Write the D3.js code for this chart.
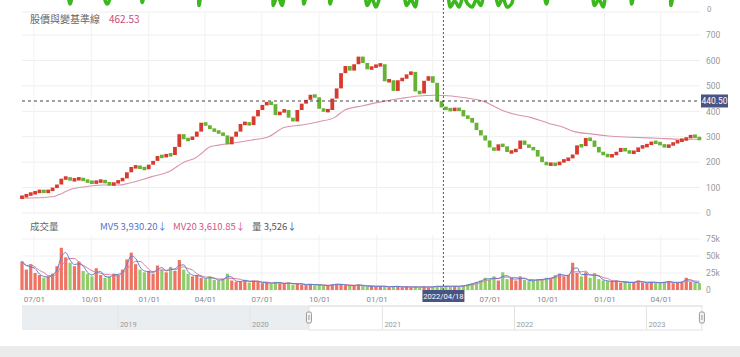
<!DOCTYPE html>
<html><head><meta charset="utf-8">
<script src="https://cdn.jsdelivr.net/npm/d3@7"></script>
<style>
html,body{margin:0;padding:0;background:#fff;}
svg{display:block;font-family:"Noto Sans CJK TC","Noto Sans",sans-serif;}
</style></head><body>
<svg id="c" width="740" height="357"></svg>
<script>
// ---------------- DATA ----------------
const startDate = "2020-06-12";   // first weekly bar
const endDate = "2023-06-03";
const firstOpen = 60;
// weekly closes
const closes = [64,72,77,82,88,82,88,98,112,135,
140,128,133,136,128,123,119,124,127,120,
110,118,127,136,160,181,182,178,172,190,
205,224,221,230,228,260,310,290,288,300,
320,355,345,330,322,315,305,270,300,320,
350,355,346,380,405,425,435,428,385,398,
405,375,360,405,430,445,465,455,410,400,
405,450,490,550,578,560,585,615,590,565,
575,580,585,518,522,480,522,528,545,555,
478,470,520,538,512,440,415,408,405,410,
405,380,374,355,326,305,285,258,245,270,
262,240,240,252,285,268,258,248,222,200,
189,195,188,202,208,215,230,266,263,295,
285,260,238,230,222,228,240,256,242,238,
240,258,262,268,280,276,270,258,268,275,
285,287,295,306,298,288];
// weekly volume (thousand shares)
const volumes = [42,30,38,25,22,18,20,24,35,62,
48,40,35,42,28,24,20,32,22,18,
20,24,22,30,45,55,38,30,26,28,
24,36,30,26,34,28,44,30,24,20,
22,18,16,20,15,14,16,24,14,12,
13,15,11,14,12,10,11,9,12,10,
9,11,8,10,8,7,9,7,8,6,
7,8,9,8,7,6,7,8,6,5,
6,5,6,5,4,6,5,4,5,4,
5,4,5,4,5,6,5,6,5,6,
5,7,8,10,12,14,18,15,20,14,
26,16,18,14,20,15,13,14,16,15,
18,17,22,24,20,22,40,25,20,26,
18,25,16,14,13,12,14,11,12,10,
12,14,11,10,12,11,10,12,13,10,
11,12,18,12,11,10];
// base line (pink long moving average)
const maDates = ["2020-06-12","2020-07-30","2020-08-15","2020-08-26","2020-09-21","2020-10-18","2020-11-14","2020-11-30",
"2021-01-06","2021-02-02","2021-02-28","2021-03-16","2021-03-27","2021-04-07","2021-04-23","2021-05-14","2021-06-15",
"2021-07-12","2021-08-07","2021-09-03","2021-09-30","2021-10-26","2021-11-11","2021-12-08","2022-01-14","2022-02-10",
"2022-03-09","2022-04-04","2022-05-01","2022-05-28","2022-06-23","2022-07-04","2022-07-20","2022-08-10","2022-09-06",
"2022-10-03","2022-10-24","2022-11-14","2022-12-11","2023-01-07","2023-02-13","2023-03-28","2023-05-04","2023-06-03"];
const maValues = [58,64,77,90,103,110,110,117,
143,162,202,215,235,258,267,274,287,
300,337,346,359,376,405,421,440,451,
460,463,460,451,438,425,405,388,375,
353,340,320,311,303,298,294,290,290];
const priceTicks = [0,100,200,300,400,500,600,700];
const volumeTicks = [0,25000,50000,75000];
const volumeTickLabels = ["0","25k","50k","75k"];
const monthTickDates = ["2020-07-01","2020-10-01","2021-01-01","2021-04-01","2021-07-01","2021-10-01","2022-01-01","2022-04-01","2022-07-01","2022-10-01","2023-01-01","2023-04-01"];
// the 2022-04-01 label is hidden under the crosshair date box
const monthTickLabels = ["07/01","10/01","01/01","04/01","07/01","10/01","01/01","","07/01","10/01","01/01","04/01"];
const crossDate = "2022-04-18";
const crossDateLabel = "2022/04/18";
const crossPrice = 440.50;
const baseTitle = "股價與變基準線";
const baseValue = "462.53";
const volTitle = "成交量";
const volLegendLabels = ["MV5 3,930.20↓","MV20 3,610.85↓","量 3,526↓"];
const navStart = "2018-04-11", navEnd = "2023-06-06";
const navYears = ["2019","2020","2021","2022","2023"];
// clipped series of the panel above (only its dips are visible)
const topWaveIdx = [0,10,11,12,18,19.5,21,27,27.5,28.5,40,40.5,41.5,57,57.5,58.5,59.5,60.5,64,64.5,65.5,70,70.5,71.5,78,79,80,81,82,83,87,88,89,90,91,97,98,99,100,101,102,103,104,105,106,108,109,110,111,112,113,119,120,121,130,131,132,133,134,139,139.5,140.5,148,148.5,149.5,155];
const topWaveVal = [0,0,8,0,0,8,0,0,7,0,0,9,0,0,9,2,9,0,0,8,0,0,8,0,0,9,4,10,3,0,0,9,5,10,0,0,10,6,10,3,8,10,5,9,0,0,9,4,10,8,0,0,8,0,0,9,5,10,0,0,8,0,0,9,0,0];

// ---------------- SCALES ----------------
const parse = d3.utcParse("%Y-%m-%d");
const svg = d3.select("#c");
const d0 = parse(startDate);
const dates = closes.map((_, i) => d3.utcDay.offset(d0, 7 * i));
const x = d3.scaleUtc().domain([parse(startDate), parse(endDate)]).range([22, 700]);
const yP = d3.scaleLinear().domain([0, 700]).range([213, 35]);
const yV = d3.scaleLinear().domain([0, 75000]).range([290, 239]);
const yTop = d3.scaleLinear().domain([0, 10]).range([-8, 7]);
const xIdx = d3.scaleLinear().domain([0, closes.length - 1]).range([x(dates[0]), x(dates[dates.length - 1])]);
const bw = 3.8;

const candles = closes.map((c, i) => ({
  date: dates[i], open: i === 0 ? firstOpen : closes[i - 1], close: c, vol: volumes[i] * 1000
}));

// ---------------- GRID ----------------
const grid = svg.append("g");
grid.selectAll("line.h").data(priceTicks).join("line")
  .attr("x1", 22).attr("x2", 700).attr("y1", d => yP(d)).attr("y2", d => yP(d))
  .attr("stroke", "#eeeeee").attr("stroke-width", 1);
grid.append("line").attr("x1", 22).attr("x2", 700).attr("y1", 12).attr("y2", 12).attr("stroke", "#eeeeee");
grid.selectAll("line.vv").data(volumeTicks).join("line")
  .attr("x1", 22).attr("x2", 700).attr("y1", d => yV(d)).attr("y2", d => yV(d))
  .attr("stroke", "#f0f0f0");
const mdates = monthTickDates.map(parse);
grid.selectAll("line.v1").data(mdates).join("line")
  .attr("x1", d => x(d)).attr("x2", d => x(d)).attr("y1", 12).attr("y2", 213)
  .attr("stroke", "#f2f2f2");
grid.selectAll("line.v2").data(mdates).join("line")
  .attr("x1", d => x(d)).attr("x2", d => x(d)).attr("y1", 235).attr("y2", 290)
  .attr("stroke", "#f2f2f2");

// top clipped series
svg.append("path")
  .datum(topWaveIdx.map((d, i) => [d, topWaveVal[i]]))
  .attr("d", d3.line().x(d => xIdx(d[0])).y(d => yTop(d[1])).curve(d3.curveCatmullRom))
  .attr("fill", "none").attr("stroke", "#3cb81e").attr("stroke-width", 3.5)
  .attr("stroke-linecap", "round").attr("stroke-linejoin", "round");
svg.append("text").attr("x", 707).attr("y", 12).attr("font-size", 8).attr("fill", "#999").text("0");

// ---------------- PRICE ----------------
svg.append("text").attr("x", 30).attr("y", 23).attr("font-size", 10).attr("fill", "#666").text(baseTitle);
svg.append("text").attr("x", 109).attr("y", 23).attr("font-size", 10).attr("fill", "#c64e78").text(baseValue);

const axP = svg.append("g").attr("transform", "translate(706,0)")
  .call(d3.axisRight(yP).tickValues(priceTicks).tickSize(0).tickPadding(0));
axP.select(".domain").remove();
axP.selectAll("text").attr("font-size", 8.5).attr("fill", "#999").attr("font-family", "Roboto,'Noto Sans',sans-serif");

// MA line
svg.append("path")
  .datum(maDates.map((d, i) => [parse(d), maValues[i]]))
  .attr("d", d3.line().x(d => x(d[0])).y(d => yP(d[1])).curve(d3.curveMonotoneX))
  .attr("fill", "none").attr("stroke", "#dc93ad").attr("stroke-width", 1.1);

// candles
svg.append("g").selectAll("rect").data(candles).join("rect")
  .attr("x", d => x(d.date) - bw / 2)
  .attr("width", bw)
  .attr("y", d => {
    const t = yP(Math.max(d.open, d.close)), b = yP(Math.min(d.open, d.close));
    return (b - t) < 3.5 ? (t + b) / 2 - 1.75 : t;
  })
  .attr("height", d => Math.max(3.5, Math.abs(yP(d.open) - yP(d.close))))
  .attr("fill", d => d.close >= d.open ? "#d73a2e" : "#66b232");

// ---------------- VOLUME ----------------
svg.append("text").attr("x", 30).attr("y", 230).attr("font-size", 9.5).attr("fill", "#666").text(volTitle);
const legColors = ["#4f72c9", "#d2557f", "#555"];
const legX = [100, 173, 252];
volLegendLabels.forEach((t, i) => {
  svg.append("text").attr("x", legX[i]).attr("y", 230).attr("font-size", 9.5)
    .attr("fill", legColors[i]).text(t);
});

svg.append("g").selectAll("rect").data(candles).join("rect")
  .attr("x", d => x(d.date) - 1.6)
  .attr("width", 3.2)
  .attr("y", d => yV(d.vol))
  .attr("height", d => yV(0) - yV(d.vol))
  .attr("fill", d => d.close >= d.open ? "#ec6452" : "#84c85a")
  .attr("opacity", 0.9);

const mv = (n) => candles.map((d, i) => {
  const s = candles.slice(Math.max(0, i - n + 1), i + 1);
  return [d.date, d3.mean(s, e => e.vol)];
});
svg.append("path").datum(mv(4))
  .attr("d", d3.line().x(d => x(d[0])).y(d => yV(d[1])).curve(d3.curveMonotoneX))
  .attr("fill", "none").attr("stroke", "#e07aa0").attr("stroke-width", 1);
svg.append("path").datum(mv(2))
  .attr("d", d3.line().x(d => x(d[0])).y(d => yV(d[1])).curve(d3.curveMonotoneX))
  .attr("fill", "none").attr("stroke", "#5b7fd0").attr("stroke-width", 1);

const axV = svg.append("g").attr("transform", "translate(706,0)")
  .call(d3.axisRight(yV).tickValues(volumeTicks).tickSize(0).tickPadding(0)
    .tickFormat((d, i) => volumeTickLabels[i]));
axV.select(".domain").remove();
axV.selectAll("text").attr("font-size", 8.5).attr("fill", "#999").attr("font-family", "Roboto,'Noto Sans',sans-serif");

// x axis
const axX = svg.append("g").attr("transform", "translate(0,292)")
  .call(d3.axisBottom(x).tickValues(mdates).tickSize(0).tickPadding(4)
    .tickFormat((d, i) => monthTickLabels[i]));
axX.select(".domain").remove();
axX.selectAll("text").attr("font-size", 8).attr("fill", "#888").attr("font-family", "Roboto,'Noto Sans',sans-serif");

// ---------------- CROSSHAIR ----------------
const cx = x(parse(crossDate));
svg.append("line").attr("x1", cx).attr("x2", cx).attr("y1", 0).attr("y2", 291)
  .attr("stroke", "#555").attr("stroke-dasharray", "2,2");
svg.append("line").attr("x1", 22).attr("x2", 700).attr("y1", yP(crossPrice)).attr("y2", yP(crossPrice))
  .attr("stroke", "#444").attr("stroke-dasharray", "3,3");
svg.append("rect").attr("x", 701).attr("y", yP(crossPrice) - 6.5).attr("width", 27).attr("height", 13)
  .attr("fill", "#4b5385");
svg.append("text").attr("x", 714.5).attr("y", yP(crossPrice) + 3).attr("text-anchor", "middle")
  .attr("font-size", 8.5).attr("fill", "#fff").attr("font-family", "Roboto,'Noto Sans',sans-serif")
  .text(d3.format(".2f")(crossPrice));
svg.append("rect").attr("x", cx - 21).attr("y", 290).attr("width", 42).attr("height", 12).attr("fill", "#4b5385");
svg.append("text").attr("x", cx).attr("y", 299).attr("text-anchor", "middle")
  .attr("font-size", 7.6).attr("fill", "#fff").attr("font-family", "Roboto,'Noto Sans',sans-serif")
  .text(crossDateLabel);

// ---------------- NAVIGATOR ----------------
const nx = d3.scaleUtc().domain([parse(navStart), parse(navEnd)]).range([22, 703]);
const nTop = 306, nBot = 330;
const selL = nx(parse(startDate)), selR = nx(parse(endDate));
svg.append("rect").attr("x", 22).attr("y", nTop).attr("width", selL - 22).attr("height", nBot - nTop).attr("fill", "#ebeef0");
svg.append("rect").attr("x", selL).attr("y", nTop).attr("width", selR - selL).attr("height", nBot - nTop)
  .attr("fill", "#fff").attr("stroke", "#e2e2e2");
svg.append("line").attr("x1", 22).attr("x2", 703).attr("y1", nTop).attr("y2", nTop).attr("stroke", "#e4e4e4");
const ny = navYears.map(yv => parse(yv + "-01-01"));
svg.selectAll("line.ny").data(ny).join("line")
  .attr("x1", d => nx(d)).attr("x2", d => nx(d)).attr("y1", nTop).attr("y2", nBot)
  .attr("stroke", "#e3e3e3");
svg.selectAll("text.ny").data(ny).join("text")
  .attr("x", d => nx(d) + 2).attr("y", nBot - 3).attr("font-size", 7.5).attr("fill", "#9a9a9a")
  .attr("font-family", "Roboto,'Noto Sans',sans-serif")
  .text((d, i) => navYears[i]);
[selL, selR].forEach(hx => {
  svg.append("rect").attr("x", hx - 2.5).attr("y", 312).attr("width", 5).attr("height", 11).attr("rx", 1.5)
    .attr("fill", "#f4f4f4").attr("stroke", "#999");
  svg.append("line").attr("x1", hx).attr("x2", hx).attr("y1", 315).attr("y2", 320).attr("stroke", "#999");
});
svg.append("rect").attr("x", 0).attr("y", 346).attr("width", 740).attr("height", 11).attr("fill", "#ebebeb");
</script>
</body></html>
